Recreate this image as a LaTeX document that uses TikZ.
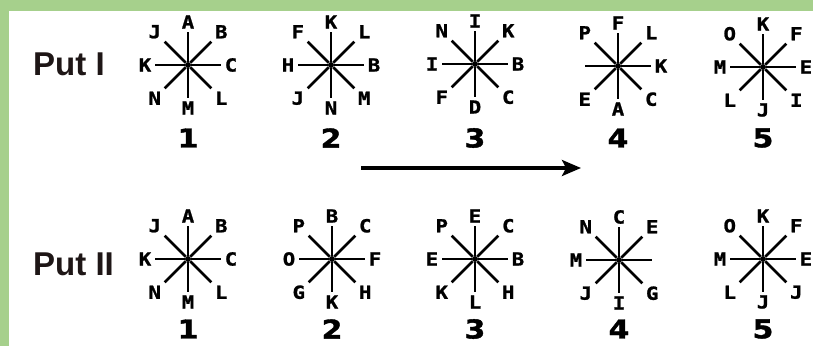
\documentclass[tikz,border=0pt]{standalone}
\usepackage{fontspec}
\usetikzlibrary{arrows.meta,calc}
\newfontfamily\labfont[FakeStretch=1.15,BoldFeatures={FakeBold=1.2}]{DejaVu Sans Mono}
\newfontfamily\numfont[FakeStretch=1.15,BoldFeatures={FakeBold=1.5}]{DejaVu Sans}
\newfontfamily\putfont{Liberation Sans}
\definecolor{frame}{RGB}{166,208,140}
\definecolor{ink}{RGB}{30,22,22}
\tikzset{
  arm/.style={line width=2.6pt},
  hub/.style={circle, fill=black, inner sep=0pt, minimum size=6pt},
  lab/.style={font=\labfont\bfseries\fontsize{18}{18}\selectfont, inner sep=0pt},
  num/.style={font=\numfont\bfseries\fontsize{26}{26}\selectfont, inner sep=0pt},
  put/.style={font=\putfont\bfseries\fontsize{33}{33}\selectfont, text=ink, anchor=base west, inner sep=0pt},
  flow/.style={line width=3.2pt, -{Stealth[length=19pt,width=16pt,inset=4pt]}}
}
% #1 name, #2 x, #3 y, #4 labels N..NW, #5 digit, #6 digit drop
\newcommand\starfig[6]{%
  \node[hub] (#1) at (#2,#3) {};
  \foreach \L [count=\i] in {#4} {
    \pgfmathsetmacro\myang{90-45*(\i-1)}
    \pgfmathsetmacro\myrad{mod(\i,2)==1 ? 43 : 47}
    \coordinate (#1-a\i) at ($(#1)+(\myang:33)$);
    \draw[arm] (#1) -- (#1-a\i);
    \node[lab] (#1-l\i) at ($(#1)+(\myang:\myrad)$) {\L};
  }
  \node[num] (#1-num) at ($(#1)+(0,-#6)$) {#5};
}
\begin{document}
\begin{tikzpicture}[x=1pt,y=1pt]
\useasboundingbox (0,0) rectangle (813,346);
\fill[white] (0,0) rectangle (813,346);
\fill[frame] (0,335) rectangle (813,346);
\fill[frame] (0,0) rectangle (9,346);

\node[put] (put1) at (33,270) {Put I};
\node[put] (put2) at (33,71) {Put II};

\starfig{f11}{188}{281}{A,B,C,L,M,N,K,J}{1}{73}
\starfig{f12}{331}{281}{K,L,B,M,N,J,H,F}{2}{73}
\starfig{f13}{475}{282}{I,K,B,C,D,F,I,N}{3}{74}
\starfig{f14}{618}{280}{F,L,K,C,A,E,{},P}{4}{72}
\starfig{f15}{763}{279}{K,F,E,I,J,L,M,O}{5}{71}

\starfig{f21}{188}{87}{A,B,C,L,M,N,K,J}{1}{70}
\starfig{f22}{332}{87}{B,C,F,H,K,G,O,P}{2}{70}
\starfig{f23}{475}{87}{E,C,B,H,L,K,E,P}{3}{70}
\starfig{f24}{619}{86}{C,E,{},G,I,J,M,N}{4}{69}
\starfig{f25}{763}{87}{K,F,E,J,J,L,M,O}{5}{70}

\coordinate (arrS) at (361,178);
\coordinate (arrE) at (581,178);
\draw[flow] (arrS) -- (arrE);
\end{tikzpicture}
\end{document}
